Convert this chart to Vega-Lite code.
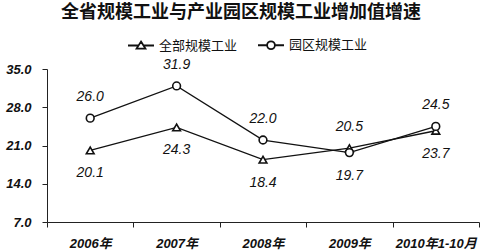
{
  "$schema": "https://vega.github.io/schema/vega-lite/v6.json",
  "width": 432,
  "height": 153,
  "autosize": {"type": "none"},
  "padding": {"left": 47, "top": 69, "right": 5, "bottom": 30},
  "background": "white",
  "title": {
    "text": "全省规模工业与产业园区规模工业增加值增速",
    "font": "Noto Sans CJK SC",
    "fontSize": 18,
    "fontWeight": "bold",
    "color": "#111",
    "anchor": "middle",
    "frame": "group",
    "dx": -22,
    "offset": 9
  },
  "config": {"view": {"stroke": null}},
  "data": {
    "values": [
      {"year": "2006年", "series": "全部规模工业", "value": 20.1},
      {"year": "2007年", "series": "全部规模工业", "value": 24.3},
      {"year": "2008年", "series": "全部规模工业", "value": 18.4},
      {"year": "2009年", "series": "全部规模工业", "value": 20.5},
      {"year": "2010年1-10月", "series": "全部规模工业", "value": 23.7},
      {"year": "2006年", "series": "园区规模工业", "value": 26.0},
      {"year": "2007年", "series": "园区规模工业", "value": 31.9},
      {"year": "2008年", "series": "园区规模工业", "value": 22.0},
      {"year": "2009年", "series": "园区规模工业", "value": 19.7},
      {"year": "2010年1-10月", "series": "园区规模工业", "value": 24.5}
    ]
  },
  "encoding": {
    "x": {
      "field": "year",
      "type": "ordinal",
      "sort": null,
      "scale": {"type": "band", "paddingInner": 0, "paddingOuter": 0},
      "axis": {
        "title": null,
        "labelAngle": 0,
        "tickBand": "extent",
        "tickSize": 5,
        "tickColor": "#222",
        "domainColor": "#222",
        "labelFont": "Liberation Sans, Noto Sans CJK SC",
        "labelFontSize": 13,
        "labelFontStyle": "italic",
        "labelFontWeight": "bold",
        "labelColor": "#111",
        "labelPadding": 10
      }
    },
    "y": {
      "field": "value",
      "type": "quantitative",
      "scale": {"domain": [7, 35], "nice": false, "zero": false},
      "axis": {
        "title": null,
        "values": [7, 14, 21, 28, 35],
        "format": ".1f",
        "grid": false,
        "tickSize": 5,
        "tickColor": "#222",
        "domainColor": "#222",
        "labelFont": "Liberation Sans",
        "labelFontSize": 13,
        "labelFontStyle": "italic",
        "labelFontWeight": "bold",
        "labelColor": "#111",
        "labelPadding": 11
      }
    }
  },
  "layer": [
    {
      "mark": {"type": "line", "color": "#111", "strokeWidth": 1.3},
      "encoding": {"detail": {"field": "series"}}
    },
    {
      "mark": {"type": "point", "filled": true, "fill": "white", "stroke": "#111", "strokeWidth": 1.6, "size": 60, "opacity": 1},
      "encoding": {
        "shape": {
          "field": "series",
          "scale": {"domain": ["全部规模工业", "园区规模工业"], "range": ["triangle-up", "circle"]},
          "legend": null
        }
      }
    },
    {
      "transform": [{"filter": "false"}],
      "mark": {"type": "point", "filled": false, "color": "#111", "strokeWidth": 1.8, "opacity": 1},
      "encoding": {
        "shape": {
          "field": "series",
          "scale": {
            "domain": ["全部规模工业", "园区规模工业"],
            "range": [
              "M-1,0L-0.22,0M0.22,0L1,0M0,-0.3L0.34,0.24L-0.34,0.24Z",
              "M-1,0L-0.3,0M0.3,0L1,0M-0.3,0A0.3,0.3 0 1,0 0.3,0A0.3,0.3 0 1,0 -0.3,0Z"
            ]
          },
          "legend": {
            "title": null,
            "orient": "none",
            "legendX": 80,
            "legendY": -38,
            "direction": "horizontal",
            "symbolSize": 676,
            "symbolStrokeWidth": 1.8,
            "symbolStrokeColor": "#111",
            "symbolFillColor": "white",
            "symbolOpacity": 1,
            "labelFont": "Noto Sans CJK SC",
            "labelFontSize": 13,
            "labelColor": "#111",
            "labelOffset": 4,
            "columnPadding": 16,
            "encode": {
              "symbols": {
                "update": {
                  "stroke": {"value": "#111"},
                  "fill": {"value": "white"},
                  "strokeWidth": {"value": 1.8},
                  "opacity": {"value": 1}
                }
              }
            }
          }
        }
      }
    },
    {
      "transform": [
        {"joinaggregate": [{"op": "max", "field": "value", "as": "maxv"}], "groupby": ["year"]},
        {"filter": "datum.value == datum.maxv"}
      ],
      "mark": {"type": "text", "dy": -21, "baseline": "middle", "font": "Liberation Sans", "fontSize": 14, "fontStyle": "italic", "color": "#111"},
      "encoding": {"text": {"field": "value", "type": "quantitative", "format": ".1f"}}
    },
    {
      "transform": [
        {"joinaggregate": [{"op": "max", "field": "value", "as": "maxv"}], "groupby": ["year"]},
        {"filter": "datum.value < datum.maxv"}
      ],
      "mark": {"type": "text", "dy": 23, "baseline": "middle", "font": "Liberation Sans", "fontSize": 14, "fontStyle": "italic", "color": "#111"},
      "encoding": {"text": {"field": "value", "type": "quantitative", "format": ".1f"}}
    }
  ],
  "resolve": {"scale": {"shape": "independent"}, "legend": {"shape": "independent"}}
}
